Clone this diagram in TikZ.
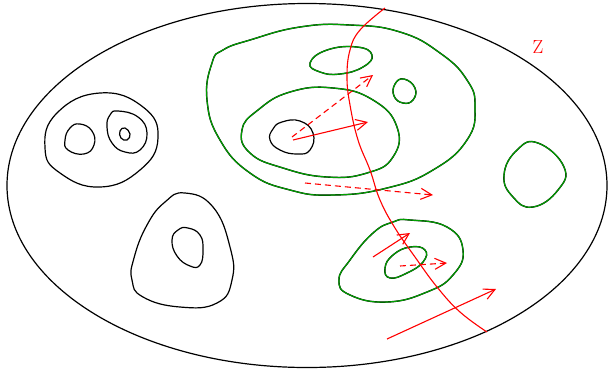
\documentclass[tikz,border=0pt]{standalone}
\usepackage{xcolor}
\usepackage{tikz}
\usetikzlibrary{arrows.meta}
\definecolor{Leaf}{HTML}{00A000}
\definecolor{Flow}{HTML}{FF0000}
\newcommand{\gloop}[1]{%
  \draw[bcurve] plot[smooth cycle, tension=0.8] coordinates {#1};
  \draw[gcurve] plot[smooth cycle, tension=0.8] coordinates {#1};}
\begin{document}
\begin{tikzpicture}[
  x=1pt, y=-1pt,
  bcurve/.style={draw=black, line width=1.4pt},
  gcurve/.style={draw=Leaf, line width=1.1pt},
  curve/.style={draw=black, line width=1.2pt},
  flow/.style={-{Straight Barb[length=11pt,width=11pt]}, draw=Flow, line width=1.1pt},
  flowdash/.style={flow, dash pattern=on 6pt off 4pt}
]
\useasboundingbox (0,0) rectangle (608,376);

% domain
\draw[curve] (307,185.5) ellipse [x radius=300, y radius=182];
\node[text=Flow, font=\fontsize{19}{20}\selectfont] (zlabel) at (538,47) {Z};

% black components
\draw[curve] plot[smooth cycle, tension=0.8] coordinates {(100,93) (143,107) (158,138) (140,170) (100,187) (60,173) (45,148) (57,113)};
\draw[curve] plot[smooth cycle, tension=0.8] coordinates {(80,124) (92,131) (94,145) (84,154) (68,150) (65,140) (70,128)};
\draw[curve] plot[smooth cycle, tension=0.8] coordinates {(118,111) (138,117) (147,133) (140,150) (125,152) (112,143) (107,127) (110,115)};
\draw[curve] plot[smooth cycle, tension=0.8] coordinates {(125,128) (130,134) (127,140) (121,138) (120,131)};
\draw[curve] plot[smooth cycle, tension=0.8] coordinates {(185,193) (213,207) (230,247) (232,280) (217,303) (180,307) (143,297) (132,280) (134,258) (147,225) (165,202)};
\draw[curve] plot[smooth cycle, tension=0.8] coordinates {(188,228) (200,235) (203,250) (200,265) (190,266) (177,256) (172,240) (178,230)};
\draw[curve] plot[smooth cycle, tension=0.8] coordinates {(282,122) (300,121) (313,133) (310,150) (297,154) (280,150) (270,140) (273,129)};

% green components
\gloop{(223,50) (250,40) (300,27) (350,25) (400,32) (440,53) (467,80) (475,107) (467,140) (433,170) (387,188) (333,195) (290,190) (250,173) (220,140) (207,100) (212,63)}
\gloop{(242,130) (258,110) (290,92) (333,88) (373,100) (397,127) (393,157) (367,173) (327,177) (283,168) (250,153)}
\gloop{(310,63) (327,50) (357,47) (372,55) (363,67) (340,74) (320,72)}
\gloop{(404,79) (415,88) (413,100) (403,103) (394,96) (395,84)}
\gloop{(538,143) (564,167) (558,190) (533,207) (513,197) (504,175) (517,150)}
\gloop{(410,220) (447,227) (463,250) (453,275) (427,292) (387,302) (350,295) (339,280) (350,260) (373,233) (393,222)}
\gloop{(410,247) (425,250) (423,262) (407,273) (390,278) (385,268) (393,255)}

% red cut
\draw[draw=Flow, line width=1.1pt] plot[smooth, tension=0.7] coordinates {(385,8) (360,30) (350,50) (347,77) (350,105) (358,140) (370,170) (380,200) (395,228) (415,257) (437,287) (460,312) (487,332)};

% flows
\coordinate (a1) at (293,140);
\coordinate (a2) at (368,122);
\coordinate (b1) at (292,137);
\coordinate (b2) at (373,75);
\coordinate (c1) at (305,183);
\coordinate (c2) at (433,195);
\coordinate (d1) at (373,257);
\coordinate (d2) at (410,233);
\coordinate (e1) at (400,266);
\coordinate (e2) at (447,263);
\coordinate (f1) at (387,339);
\coordinate (f2) at (496,289);
\draw[flow] (a1) -- (a2);
\draw[flowdash] (b1) -- (b2);
\draw[flowdash] (c1) -- (c2);
\draw[flow] (d1) -- (d2);
\draw[flowdash] (e1) -- (e2);
\draw[flow] (f1) -- (f2);
\end{tikzpicture}
\end{document}
